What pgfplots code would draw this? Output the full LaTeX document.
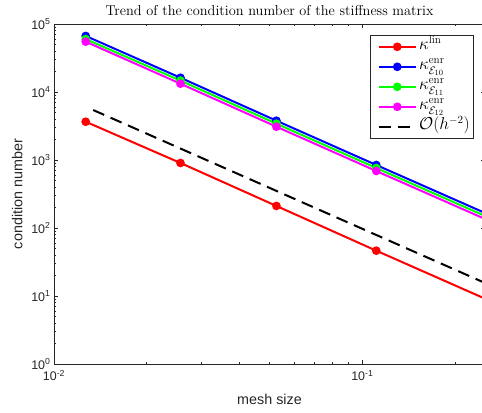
\documentclass[border=0pt]{standalone}
\usepackage{pgfplots}
\pgfplotsset{compat=1.18}
\usepackage{fontspec}
\setsansfont{Liberation Sans}
\usepackage{amsmath}

\definecolor{axgray}{rgb}{0.15,0.15,0.15}
\definecolor{mred}{rgb}{1,0,0}
\definecolor{mblue}{rgb}{0,0,1}
\definecolor{mgreen}{rgb}{0,1,0}
\definecolor{mmagenta}{rgb}{1,0,1}

\begin{document}
\begin{tikzpicture}
\begin{axis}[
  name=ax,
  scale only axis,
  width=431bp, height=340bp,
  xmode=log, ymode=log,
  xmin=0.01, xmax=0.25,
  ymin=1, ymax=1e5,
  xtick={0.01,0.1},
  xticklabels={10\textsuperscript{-2},10\textsuperscript{-1}},
  ytick={1,10,100,1000,10000,100000},
  yticklabels={10\textsuperscript{0},10\textsuperscript{1},10\textsuperscript{2},10\textsuperscript{3},10\textsuperscript{4},10\textsuperscript{5}},
  minor xtick={0.02,0.03,0.04,0.05,0.06,0.07,0.08,0.09,0.2},
  minor ytick={2,3,4,5,6,7,8,9,20,30,40,50,60,70,80,90,200,300,400,500,600,700,800,900,
    2000,3000,4000,5000,6000,7000,8000,9000,20000,30000,40000,50000,60000,70000,80000,90000},
  tick align=inside,
  major tick length=4.5bp, minor tick length=2.5bp,
  axis line style={axgray, line width=0.6pt},
  tick style={axgray, line width=0.6pt},
  ticklabel style={font=\fontsize{12.5}{14}\sffamily, text=axgray},
  xticklabel style={yshift=-3bp},
  xlabel={mesh size}, ylabel={condition number},
  label style={font=\fontsize{14.4}{16}\sffamily, text=axgray},
  xlabel style={yshift=-6bp},
  ylabel style={yshift=2bp},
  title={Trend of the condition number of the stiffness matrix},
  title style={font=\fontsize{14.4}{16}\selectfont, yshift=-1bp},
  legend style={at={(0.9745,0.9676)}, anchor=north east,
    font=\fontsize{16}{18}\selectfont, draw=axgray, line width=0.6pt,
    row sep=0bp, inner sep=1.5bp,
    nodes={inner ysep=1bp, inner xsep=2.5bp, text height=12bp, text depth=6bp}},
  legend cell align=left,
  legend image code/.code={\path (-0.22cm,0cm);
    \draw[mark repeat=2,mark phase=2] plot coordinates {(0cm,0cm) (0.65cm,0cm) (1.3cm,0cm)};},
  every axis plot/.append style={line width=2bp},
  mark size=3.3bp,
]
\addplot[mred, mark=*, mark options={solid}] coordinates {
  (0.01267,3656) (0.02572,904) (0.05265,211) (0.1110,46.4) (0.3,6.35)};
\addlegendentry{$\kappa^{\mathrm{lin}}$}
\addplot[mblue, mark=*, mark options={solid}] coordinates {
  (0.01267,66700) (0.02572,16200) (0.05265,3785) (0.1110,844) (0.3,115.6)};
\addlegendentry{$\kappa^{\mathrm{enr}}_{\mathcal{E}_{10}}$}
\addplot[mgreen, mark=*, mark options={solid}] coordinates {
  (0.01267,60000) (0.02572,14700) (0.05265,3420) (0.1110,763) (0.3,104.5)};
\addlegendentry{$\kappa^{\mathrm{enr}}_{\mathcal{E}_{11}}$}
\addplot[mmagenta, mark=*, mark options={solid}] coordinates {
  (0.01267,55000) (0.02572,13250) (0.05265,3090) (0.1110,689) (0.3,94.3)};
\addlegendentry{$\kappa^{\mathrm{enr}}_{\mathcal{E}_{12}}$}
\addplot[black, dash pattern=on 12bp off 7bp] coordinates {
  (0.0134,5430) (0.3,10.8)};
\addlegendentry{$\mathcal{O}(h^{-2})$}
\end{axis}
\pgfresetboundingbox
\path[use as bounding box] ([xshift=-54bp,yshift=-49bp]ax.south west) rectangle ([xshift=428bp,yshift=24bp]ax.north west);
\end{tikzpicture}
\end{document}
